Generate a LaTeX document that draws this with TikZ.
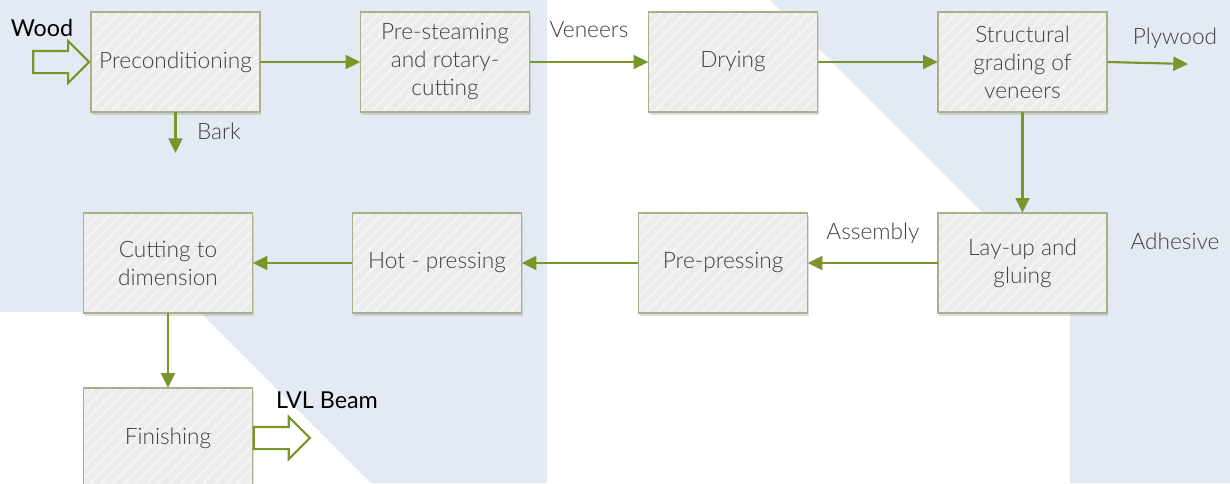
\documentclass[tikz,border=0pt]{standalone}
\usepackage{fontspec}
\setmainfont{Lato Light}
\newfontfamily\darkfont{Lato}
\usetikzlibrary{arrows.meta}
\usetikzlibrary{shapes.arrows}
\usetikzlibrary{shadows}
\usetikzlibrary{patterns.meta}

\definecolor{bgblue}{RGB}{228,234,243}
\definecolor{flowgreen}{RGB}{122,150,42}
\definecolor{boxedge}{RGB}{168,178,138}
\definecolor{boxfill}{RGB}{236,236,236}
\definecolor{textgray}{RGB}{64,64,64}

\tikzset{
  stage/.style={fill=boxfill,
    minimum width=126.75pt, minimum height=75pt, inner sep=0pt,
    align=center, text=textgray, font=\fontsize{17}{21}\selectfont,
    drop shadow={opacity=0.25, shadow xshift=1pt, shadow yshift=-2pt},
    postaction={pattern={Lines[angle=45, distance=6pt, line width=1.5pt]}, pattern color=white!50!boxfill},
    postaction={draw=boxedge, line width=1.2pt}},
  flow/.style={draw=flowgreen, line width=1.6pt, -{Triangle[length=11pt, width=10.5pt]}},
  lbl/.style={text=textgray, font=\fontsize{17}{21}\selectfont, inner sep=0pt},
  darklbl/.style={text=black, font=\darkfont\fontsize{17.5}{21}\selectfont, inner sep=0pt},
  blockarrow/.style={single arrow, draw=flowgreen, line width=1.6pt,
    minimum height=42pt, minimum width=30pt, single arrow head extend=7.5pt,
    inner xsep=0pt, inner ysep=7.5pt}
}

\begin{document}
\begin{tikzpicture}[x=0.75pt, y=-0.75pt]
\useasboundingbox (0,0) rectangle (1230,483);
% Background
\fill [white] (0,0) rectangle (1230,483);
\fill [bgblue] (0,0) -- (547,0) -- (547,483) -- (371,483) -- (200,312) -- (0,312) -- cycle;
\fill [bgblue] (770,0) -- (1230,0) -- (1230,483) -- (1070,483) -- (1070,300) -- cycle;
% Stages
\node [stage] (pre) at (175.5,62) {Preconditioning};
\node [stage] (steam) at (445,62) {Pre-steaming\\and rotary-\\cutting};
\node [stage] (dry) at (733,62) {Drying};
\node [stage] (grade) at (1022.5,62) {Structural\\grading of\\veneers};
\node [stage] (layup) at (1022.5,263) {Lay-up and\\gluing};
\node [stage] (prepress) at (723,263) {Pre-pressing};
\node [stage] (hot) at (437,263) {Hot - pressing};
\node [stage] (cut) at (168,263) {Cutting to\\dimension};
\node [stage] (fin) at (168,438) {Finishing};
% Labels
\node [darklbl] (wood) at (42,28) {Wood};
\node [lbl] (bark) at (219,131) {Bark};
\node [lbl] (veneers) at (589,30) {Veneers};
\node [lbl] (plywood) at (1175,38) {Plywood};
\node [lbl] (adhesive) at (1175,241) {Adhesive};
\node [lbl] (assembly) at (873,233) {Assembly};
\node [darklbl] (beam) at (327,400) {LVL Beam};
% Flow
\coordinate (barkend) at (175.5,153);
\coordinate (plyend) at (1188,64);
\draw [flow] (pre) -- (steam);
\draw [flow] (steam) -- (dry);
\draw [flow] (dry) -- (grade);
\draw [flow] (grade) -- (layup);
\draw [flow] (layup) -- (prepress);
\draw [flow] (prepress) -- (hot);
\draw [flow] (hot) -- (cut);
\draw [flow] (cut) -- (fin);
\draw [flow] (pre) -- (barkend);
\draw [flow] (grade.east) -- (plyend);
% In and out
\node [blockarrow, anchor=tip] (woodin) at (pre.west) {};
\node [blockarrow, anchor=tail] (beamout) at (fin.east) {};
\end{tikzpicture}
\end{document}
